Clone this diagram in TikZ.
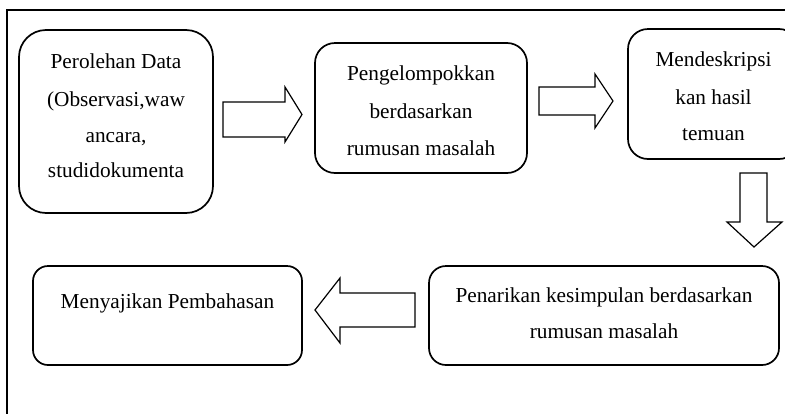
\documentclass[tikz,border=0pt]{standalone}
\usepackage{fontspec}
\setmainfont{Liberation Serif}
\begin{document}
\begin{tikzpicture}[x=1pt,y=-1pt,
  box/.style={draw,line width=1.7pt},
  blk/.style={draw,line width=1.2pt,line join=miter},
  txt/.style={anchor=base,inner sep=0pt,font=\fontsize{21.3}{25}\selectfont}]
\clip (0,0) rectangle (785,413);
\fill[white] (0,0) rectangle (785,413);
% outer frame
\draw[line width=2pt] (7,10) rectangle (820,440);
% boxes
\draw[box,rounded corners=27pt] (19,30) rectangle (213,213);
\draw[box,rounded corners=20pt] (315,43) rectangle (527,173);
\draw[box,rounded corners=20pt] (628,29) rectangle (799,159);
\draw[box,rounded corners=15pt] (33,266) rectangle (302,365);
\draw[box,rounded corners=17pt] (429,266) rectangle (779,365);
% texts
\node[txt] (t1a) at (116,68) {Perolehan Data};
\node[txt] (t1b) at (116,106) {(Observasi,waw};
\node[txt] (t1c) at (116,142) {ancara,};
\node[txt] (t1d) at (116,177) {studidokumenta};
\node[txt] (t2a) at (421,80) {Pengelompokkan};
\node[txt] (t2b) at (421,118) {berdasarkan};
\node[txt] (t2c) at (421,155) {rumusan masalah};
\node[txt] (t3a) at (713.5,66) {Mendeskripsi};
\node[txt] (t3b) at (713.5,104) {kan hasil};
\node[txt] (t3c) at (713.5,140) {temuan};
\node[txt] (t4) at (167.5,308) {Menyajikan Pembahasan};
\node[txt] (t5a) at (604,302) {Penarikan kesimpulan berdasarkan};
\node[txt] (t5b) at (604,338) {rumusan masalah};
% block arrows
\draw[blk] (223,102) -- (285,102) -- (285,87) -- (302,114.5) -- (285,142) -- (285,137) -- (223,137) -- cycle;
\draw[blk] (539,87) -- (595,87) -- (595,74) -- (613,101) -- (595,128) -- (595,115) -- (539,115) -- cycle;
\draw[blk] (740,173) -- (767,173) -- (767,222) -- (782,222) -- (754,247) -- (727,222) -- (740,222) -- cycle;
\draw[blk] (415,293) -- (340,293) -- (340,278) -- (315,310) -- (340,343) -- (340,327) -- (415,327) -- cycle;
\end{tikzpicture}
\end{document}
